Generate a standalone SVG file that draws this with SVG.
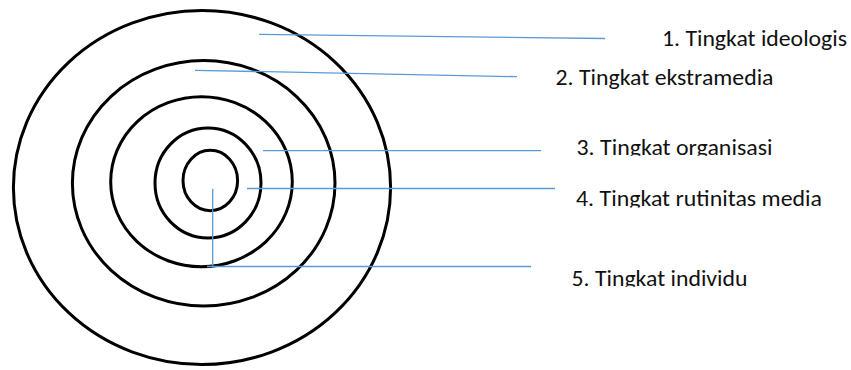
<svg xmlns="http://www.w3.org/2000/svg" width="851" height="370" viewBox="0 0 851 370">
<style>
.ring{fill:none;stroke:#000;stroke-width:3}
.ln{stroke:#5B9BD5;stroke-width:1.3;fill:none}
.lbl{font-family:Carlito,Calibri,Lato,"Open Sans",sans-serif;font-size:23px;fill:#111}
</style>
<defs>
<clipPath id="c2"><rect x="540" y="60" width="300" height="30.5"/></clipPath>
<clipPath id="c3"><rect x="560" y="130" width="290" height="25.7"/></clipPath>
<clipPath id="c4"><rect x="560" y="180" width="290" height="27.5"/></clipPath>
<clipPath id="c5"><rect x="560" y="260" width="290" height="26.7"/></clipPath>
</defs>
<rect width="851" height="370" fill="#fff"/>
<g id="rings">
<g id="ring1"><ellipse class="ring" cx="202" cy="187.5" rx="188.6" ry="177"/></g>
<g id="ring2"><ellipse class="ring" cx="203.7" cy="183.3" rx="131.3" ry="122.7"/></g>
<g id="ring3"><ellipse class="ring" cx="201.5" cy="181.7" rx="90.8" ry="85"/></g>
<g id="ring4"><ellipse class="ring" cx="208" cy="183" rx="53" ry="55"/></g>
<g id="ring5"><ellipse class="ring" cx="210.3" cy="180.5" rx="27.3" ry="30.2"/></g>
</g>
<g id="connectors">
<line class="ln" x1="259" y1="34.3" x2="605" y2="38.5"/>
<line class="ln" x1="195" y1="70.3" x2="517" y2="76.7"/>
<line class="ln" x1="263" y1="150.7" x2="541" y2="150.7"/>
<line class="ln" x1="247" y1="188.5" x2="555" y2="188.5"/>
<line class="ln" x1="207" y1="266.5" x2="531" y2="266.5"/>
<line class="ln" x1="212.7" y1="188.7" x2="212.7" y2="266.5"/>
</g>
<g id="label1"><text class="lbl" x="662" y="46" textLength="185" lengthAdjust="spacingAndGlyphs">1. Tingkat ideologis</text></g>
<g id="label2" clip-path="url(#c2)"><text class="lbl" x="555.5" y="84.5" textLength="218" lengthAdjust="spacingAndGlyphs">2. Tingkat ekstramedia</text></g>
<g id="label3" clip-path="url(#c3)"><text class="lbl" x="576.5" y="154.5" textLength="196" lengthAdjust="spacingAndGlyphs">3. Tingkat organisasi</text></g>
<g id="label4" clip-path="url(#c4)"><text class="lbl" x="576" y="206" textLength="246" lengthAdjust="spacingAndGlyphs">4. Tingkat rutinitas media</text></g>
<g id="label5" clip-path="url(#c5)"><text class="lbl" x="571.5" y="285.5" textLength="176" lengthAdjust="spacingAndGlyphs">5. Tingkat individu</text></g>
</svg>
